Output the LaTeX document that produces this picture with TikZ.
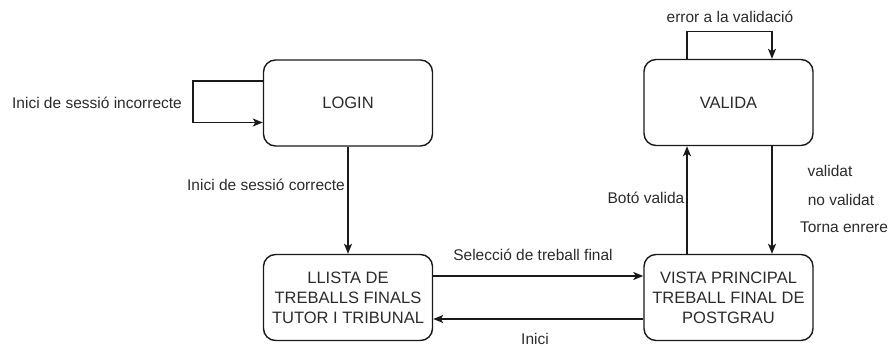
\documentclass[tikz,border=0pt]{standalone}
\usepackage{fontspec}
\setmainfont{Liberation Sans}
\usetikzlibrary{arrows.meta}
\definecolor{ink}{HTML}{1A1A1A}
\definecolor{txt}{HTML}{2B2B2B}
\begin{document}
\begin{tikzpicture}[x=1pt,y=-1pt,
  state/.style={draw=ink,line width=1.4pt,rounded corners=12pt,minimum width=169pt,minimum height=86pt,inner sep=0pt,align=center,font=\fontsize{16.5}{20}\selectfont,text=txt},
  flow/.style={draw=ink,line width=1.4pt,-{Stealth[length=10pt,width=8pt,inset=2.5pt]}},
  lbl/.style={font=\fontsize{15.5}{18}\selectfont,text=txt,inner sep=0pt}]
\useasboundingbox (0,0) rectangle (892,347);
% states
\node[state] (login)  at (348,103) {LOGIN};
\node[state] (valida) at (728.5,102.5) {VALIDA};
\node[state] (llista) at (348,297.5) {LLISTA DE\\TREBALLS FINALS\\TUTOR I TRIBUNAL};
\node[state] (vista)  at (728.5,297.5) {VISTA PRINCIPAL\\TREBALL FINAL DE\\POSTGRAU};
% self loops
\coordinate (la) at (193,81);
\coordinate (lb) at (193,122.5);
\draw[flow] (login.west |- la) -- (la) -- (lb) -- (login.west |- lb);
\coordinate (va) at (687,31.5);
\coordinate (vb) at (772,31.5);
\draw[flow] (valida.north -| va) -- (va) -- (vb) -- (valida.north -| vb);
% transitions
\draw[flow] (login) -- (llista);
\coordinate (sy) at (0,276);
\coordinate (iy) at (0,319);
\draw[flow] (llista.east |- sy) -- (vista.west |- sy);
\draw[flow] (vista.west |- iy) -- (llista.east |- iy);
\draw[flow] (vista.north -| va) -- (valida.south -| va);
\draw[flow] (valida.south -| vb) -- (vista.north -| vb);
% labels
\node[lbl] (l1) at (97,103) {Inici de sessió incorrecte};
\node[lbl] (l2) at (266,185) {Inici de sessió correcte};
\node[lbl] (l3) at (730,17) {error a la validació};
\node[lbl] (l4) at (533,255) {Selecció de treball final};
\node[lbl] (l5) at (535,338.5) {Inici};
\node[lbl] (l6) at (646,198) {Botó valida};
\node[lbl] (l7) at (830,171) {validat};
\node[lbl] (l8) at (841,200) {no validat};
\node[lbl] (l9) at (844,227) {Torna enrere};
\end{tikzpicture}
\end{document}
